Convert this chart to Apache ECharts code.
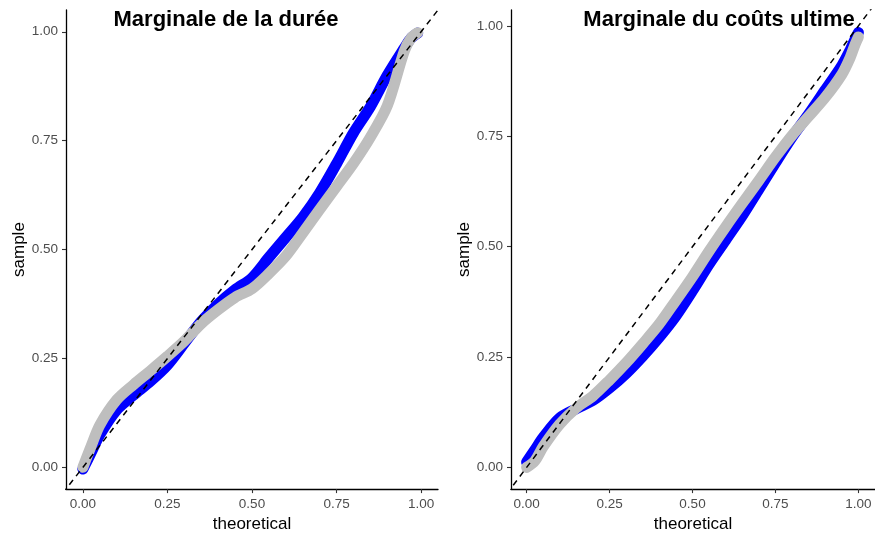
<!DOCTYPE html>
<html>
<head>
<meta charset="utf-8">
<script src="https://cdn.jsdelivr.net/npm/echarts@6/dist/echarts.min.js"></script>
<style>
html,body{margin:0;padding:0;background:#fff;}
#c{width:875px;height:538px;}
</style>
</head>
<body>
<div id="c"></div>
<script>
// ---- data ----
const titles = ['Marginale de la durée', 'Marginale du coûts ultime'];
const tickVals = [0, 0.25, 0.5, 0.75, 1];
const tickLabels = ['0.00', '0.25', '0.50', '0.75', '1.00'];
const diagEnds = [-0.1, 1.1];

// Panel 1 : durée
const durTheo = [0, 0.025, 0.05, 0.1, 0.15, 0.2, 0.25, 0.3, 0.35, 0.4, 0.45, 0.5, 0.55, 0.6, 0.65, 0.7, 0.75, 0.8, 0.85, 0.9, 0.95, 0.97, 0.99];
const durGris = [0.0, 0.05, 0.097, 0.155, 0.19, 0.222, 0.255, 0.29, 0.33, 0.362, 0.39, 0.41, 0.445, 0.485, 0.538, 0.592, 0.645, 0.698, 0.758, 0.83, 0.955, 0.985, 0.998];
const durBleu = [-0.004, 0.035, 0.075, 0.132, 0.166, 0.198, 0.235, 0.285, 0.335, 0.375, 0.408, 0.435, 0.482, 0.528, 0.574, 0.63, 0.697, 0.768, 0.828, 0.9, 0.962, 0.985, 0.997];

// Panel 2 : coûts ultime
const coutTheo = [0, 0.025, 0.05, 0.1, 0.15, 0.2, 0.25, 0.3, 0.35, 0.4, 0.45, 0.5, 0.55, 0.6, 0.65, 0.7, 0.75, 0.8, 0.85, 0.9, 0.95, 0.975, 0.99, 1.0];
const coutGris = [0.0, 0.015, 0.047, 0.098, 0.135, 0.162, 0.198, 0.237, 0.28, 0.325, 0.378, 0.432, 0.49, 0.545, 0.598, 0.65, 0.703, 0.752, 0.795, 0.838, 0.89, 0.928, 0.958, 0.975];
const coutBleu = [0.012, 0.04, 0.068, 0.112, 0.133, 0.152, 0.18, 0.213, 0.252, 0.295, 0.343, 0.40, 0.46, 0.515, 0.57, 0.63, 0.69, 0.748, 0.80, 0.855, 0.91, 0.945, 0.97, 0.985];

// ---- chart ----
const FONT = 'Liberation Sans';
const chart = echarts.init(document.getElementById('c'), null, {renderer: 'canvas'});

function xAxisCfg(i, min, max) {
  return {
    type: 'value', gridIndex: i, min: min, max: max,
    name: 'theoretical', nameLocation: 'middle', nameGap: 22,
    nameTextStyle: {color: '#000', fontSize: 17, fontFamily: FONT},
    axisLine: {show: true, onZero: false, lineStyle: {color: '#000', width: 1.3}},
    axisTick: {show: true, customValues: tickVals, length: 4, lineStyle: {color: '#333', width: 1.1}},
    axisLabel: {customValues: tickVals, formatter: v => tickLabels[tickVals.indexOf(v)],
      color: '#4d4d4d', fontSize: 13.5, margin: 8, fontFamily: FONT},
    splitLine: {show: false}
  };
}
function yAxisCfg(i, min, max) {
  return {
    type: 'value', gridIndex: i, min: min, max: max,
    name: 'sample', nameLocation: 'middle', nameGap: 37, nameRotate: 90,
    nameTextStyle: {color: '#000', fontSize: 17, fontFamily: FONT},
    axisLine: {show: true, onZero: false, lineStyle: {color: '#000', width: 1.3}},
    axisTick: {show: true, customValues: tickVals, length: 4, lineStyle: {color: '#333', width: 1.1}},
    axisLabel: {customValues: tickVals, formatter: v => tickLabels[tickVals.indexOf(v)],
      color: '#4d4d4d', fontSize: 13.5, margin: 8, fontFamily: FONT},
    splitLine: {show: false}
  };
}
function pts(xs, ys) { return xs.map((x, k) => [x, ys[k]]); }
function band(i, xs, ys, color, z) {
  return {
    type: 'line', xAxisIndex: i, yAxisIndex: i, data: pts(xs, ys),
    symbol: 'none', showSymbol: false, smooth: 0.3, z: z, silent: true,
    lineStyle: {color: color, width: 11, cap: 'round', join: 'round'}
  };
}
function diag(i) {
  return {
    type: 'line', xAxisIndex: i, yAxisIndex: i, data: pts(diagEnds, diagEnds),
    symbol: 'none', showSymbol: false, z: 5, silent: true, clip: true,
    lineStyle: {color: '#000', width: 1.5, type: [6, 5]}
  };
}

chart.setOption({
  animation: false,
  backgroundColor: '#fff',
  textStyle: {fontFamily: FONT},
  title: [
    {text: titles[0], left: 221, top: 4, textAlign: 'center',
      textStyle: {fontSize: 22, fontWeight: 'bold', color: '#000', fontFamily: FONT}},
    {text: titles[1], left: 714, top: 4, textAlign: 'center',
      textStyle: {fontSize: 22, fontWeight: 'bold', color: '#000', fontFamily: FONT}}
  ],
  grid: [
    {left: 66, right: 437, top: 10, bottom: 44, containLabel: false},
    {left: 511, right: -7, top: 10, bottom: 44, containLabel: false}
  ],
  xAxis: [xAxisCfg(0, -0.05, 1.05), xAxisCfg(1, -0.047, 1.05)],
  yAxis: [yAxisCfg(0, -0.05, 1.05), yAxisCfg(1, -0.049, 1.036)],
  series: [
    band(0, durTheo, durBleu, '#0000ff', 2),
    band(0, durTheo, durGris, '#bebebe', 3),
    diag(0),
    band(1, coutTheo, coutBleu, '#0000ff', 2),
    band(1, coutTheo, coutGris, '#bebebe', 3),
    diag(1)
  ]
});
</script>
</body>
</html>
